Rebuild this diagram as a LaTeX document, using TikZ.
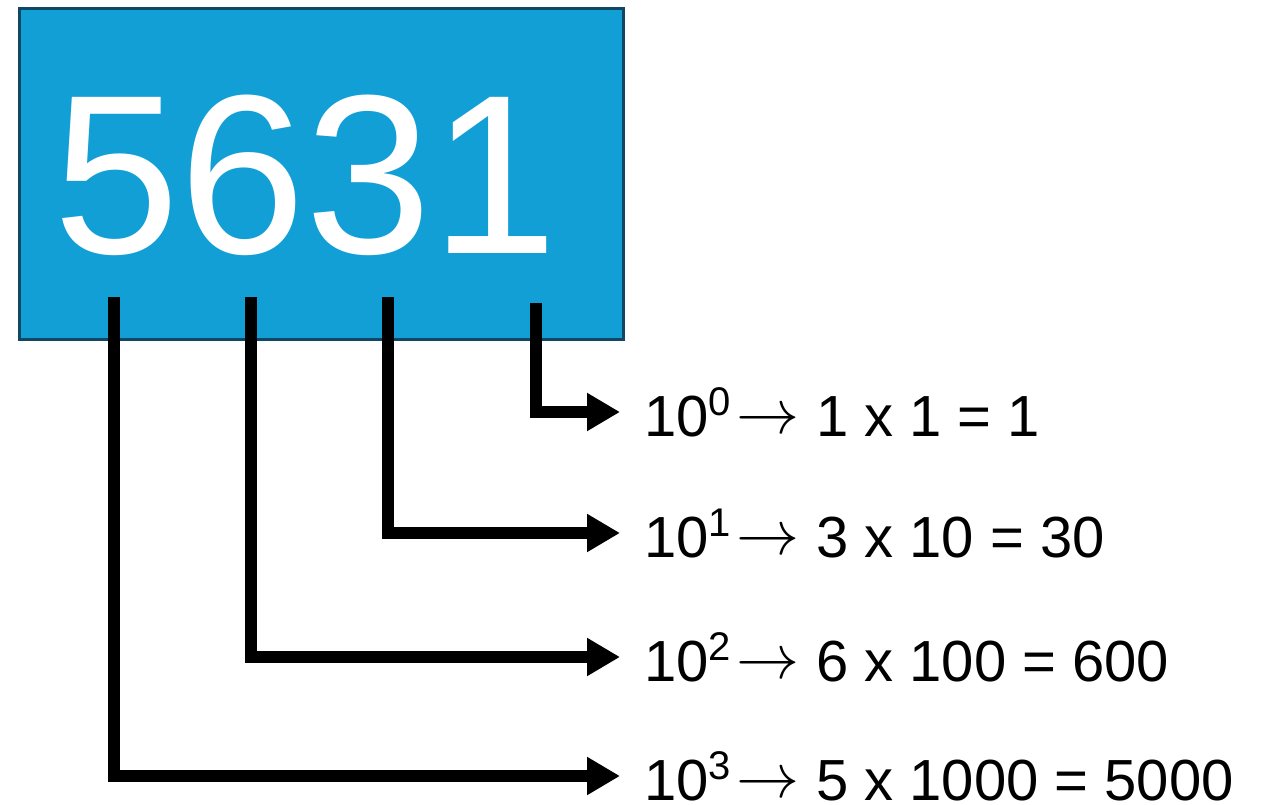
\documentclass[tikz,border=0pt]{standalone}
\usepackage{fontspec}
\setmainfont{Liberation Sans}
\usetikzlibrary{arrows.meta}
\definecolor{boxblue}{RGB}{18,159,214}
\definecolor{boxedge}{RGB}{16,72,100}
\newcommand{\pw}[1]{{\fontsize{40}{40}\selectfont\raisebox{21pt}{#1}}}
\newcommand{\bigto}{\hspace{6pt}\raisebox{3pt}{\scalebox{6.3}{\normalsize$\rightarrow$}}}

\begin{document}
\begin{tikzpicture}[
            x=1pt,y=-1pt,
            numbox/.style={draw=boxedge,line width=3pt,fill=boxblue,anchor=north west,
                           minimum width=604pt,minimum height=331pt,inner sep=0pt},
            digits/.style={text=white,anchor=base west,inner sep=0pt,
                           font=\fontsize{227}{227}\selectfont},
            lab/.style={anchor=west,inner xsep=24pt,inner ysep=0pt,
                        text height=49pt,text depth=0pt,font=\fontsize{58}{58}\selectfont},
            line/.style={-{Triangle[length=33pt,width=36pt]},line width=12pt}
        ]
        \useasboundingbox (0,0) rectangle (1266,805);
        \node[numbox] (box) at (18,7) {};
        \node[digits] (num) at (53,254) {5631};
        % place values
        \node[lab] (p0) at (620,412) {10\pw{0}\bigto\ 1 x 1 = 1};
        \node[lab] (p1) at (620,533) {10\pw{1}\bigto\ 3 x 10 = 30};
        \node[lab] (p2) at (620,657) {10\pw{2}\bigto\ 6 x 100 = 600};
        \node[lab] (p3) at (620,776) {10\pw{3}\bigto\ 5 x 1000 = 5000};
        % line starts under each digit
        \coordinate (d1) at (536,303);
        \coordinate (d3) at (388,297);
        \coordinate (d6) at (251,297);
        \coordinate (d5) at (114,297);
        % connectors
        \draw[line] (d1) |- (p0.west);
        \draw[line] (d3) |- (p1.west);
        \draw[line] (d6) |- (p2.west);
        \draw[line] (d5) |- (p3.west);
        \end{tikzpicture}
\end{document}
